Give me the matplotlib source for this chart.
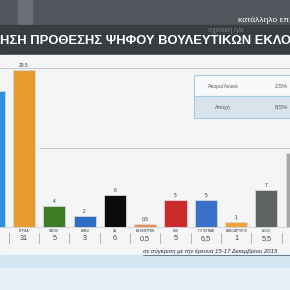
import matplotlib
matplotlib.use("Agg")
import matplotlib.pyplot as plt
from matplotlib.patches import Rectangle
import numpy as np

plt.rcParams['font.family'] = ['Liberation Sans', 'DejaVu Sans']

# Δεδομένα δημοσκόπησης
parties = ['ΝΔ', 'ΣΥΡΙΖΑ', 'ΠΑΣΟΚ', 'ΑΝΕΛ', 'ΧΑ', 'ΕΝ.ΚΕΝΤΡΩΝ', 'ΚΚΕ',
           'ΤΟ ΠΟΤΑΜΙ', 'ΑΝΕΞΑΡΤΗΤΟΙ', 'ΑΛΛΟ', 'ΑΝΑΠΟΦΑΣΙΣΤΟΙ']
values = [25.5, 29.5, 4, 2, 6, 0.5, 5, 5, 1, 7, 14]
value_labels = ['25.5', '29.5', '4', '2', '6', '0.5', '5', '5', '1', '7', '14']
previous = ['21', '31', '5', '3', '6', '0,5', '5', '6,5', '1', '5,5', '15']
colors = ['#2b8fe3', '#e99b2f', '#3e7b25', '#2f6cc4', '#0b0b0b', '#e98f4e',
          '#cc2b2a', '#3b70c9', '#f0a536', '#5e6261', '#a9a9a9']
side_labels = ['Άκυρο/Λευκό', 'Αποχή']
side_values = ['2.5%', '8.5%']
title = 'ΗΣΗ ΠΡΟΘΕΣΗΣ ΨΗΦΟΥ ΒΟΥΛΕΥΤΙΚΩΝ ΕΚΛΟ'
note = 'σε σύγκριση με την έρευνα 15-17 Δεκεμβρίου 2015'

W, H = 290, 290
fig = plt.figure(figsize=(2.9, 2.9), dpi=100)

# φόντο σε συντεταγμένες pixel
bg = fig.add_axes([0, 0, 1, 1], zorder=0)
bg.set_xlim(0, W)
bg.set_ylim(H, 0)
bg.axis('off')
bg.add_patch(Rectangle((0, 0), W, 25, color='#50565b'))
bg.add_patch(Rectangle((18, 0), 14, 25, color='#6a7075'))
bg.add_patch(Rectangle((0, 25), W, 30, color='#393d41'))
bg.add_patch(Rectangle((0, 55), W, 200, color='#f3f5f7'))
bg.add_patch(Rectangle((0, 255), W, 35, color='#d3e6f2'))
bg.add_patch(Rectangle((0, 268), W, 22, color='#e6f0f7'))
bg.plot([0, W], [68, 68], color='#c9cbcd', lw=0.8)
bg.plot([40, W], [148, 148], color='#c9cbcd', lw=0.8)
bg.text(0, 41, title, color='white', fontsize=9.4, fontweight='bold',
        va='center', ha='left')
bg.text(289, 20, 'κατάλληλο επ', color='white', fontsize=6, ha='right', va='center')
bg.text(208, 31, 'σχολική ηλι', color='white', fontsize=5, alpha=0.35, va='center')

# πλαίσιο άκυρα / αποχή
bg.add_patch(Rectangle((194, 75), 100, 21, facecolor='#f7f9fb', edgecolor='#a9c9e0', lw=0.8))
bg.add_patch(Rectangle((194, 96), 100, 22, facecolor='#d9e3eb', edgecolor='#a9c9e0', lw=0.8))
for k in range(2):
    bg.text(223, 86 + 21.5 * k, side_labels[k], fontsize=3.8, color='#555', ha='center', va='center')
    bg.text(288, 86 + 21.5 * k, side_values[k], fontsize=4.2, color='#555', ha='right', va='center')

bg.text(143, 251, note, fontsize=4.3, style='italic', color='#1d2a44', ha='left', va='center')
bg.plot([143, W], [254.5, 254.5], color='#1d2a44', lw=0.4)

# ραβδόγραμμα
ax = fig.add_axes([0, 0, 1, 1], zorder=1)
ax.patch.set_alpha(0)
ax.axis('off')
px0, step, scale, base = 24, 30.3, 5.32, 227
ax.set_xlim(1 - px0 / step, 1 + (W - px0) / step)
ax.set_ylim(-(H - base) / scale, base / scale)

x = np.arange(len(parties))
ax.bar(x, values, width=0.73, color=colors, edgecolor='#d8d8d8', linewidth=0.6)
ax.axhline(0, color='#cfd2d4', lw=0.6)
for i in x:
    ax.plot([i + 0.5, i + 0.5], [-1.2, -3.0], color='#9a9a9a', lw=0.5)
    if i in (0, len(parties) - 1):
        continue  # εκτός κάδρου στην εικόνα
    ax.text(i, values[i] + 0.4, value_labels[i], fontsize=3.5, color='#333', ha='center', va='bottom')
    ax.text(i, -0.75, parties[i], fontsize=2.2, color='#333', ha='center', va='center')
    ax.text(i, -2.1, previous[i], fontsize=5.2, color='#444', ha='center', va='center')

fig.savefig('out.png', dpi=100)
